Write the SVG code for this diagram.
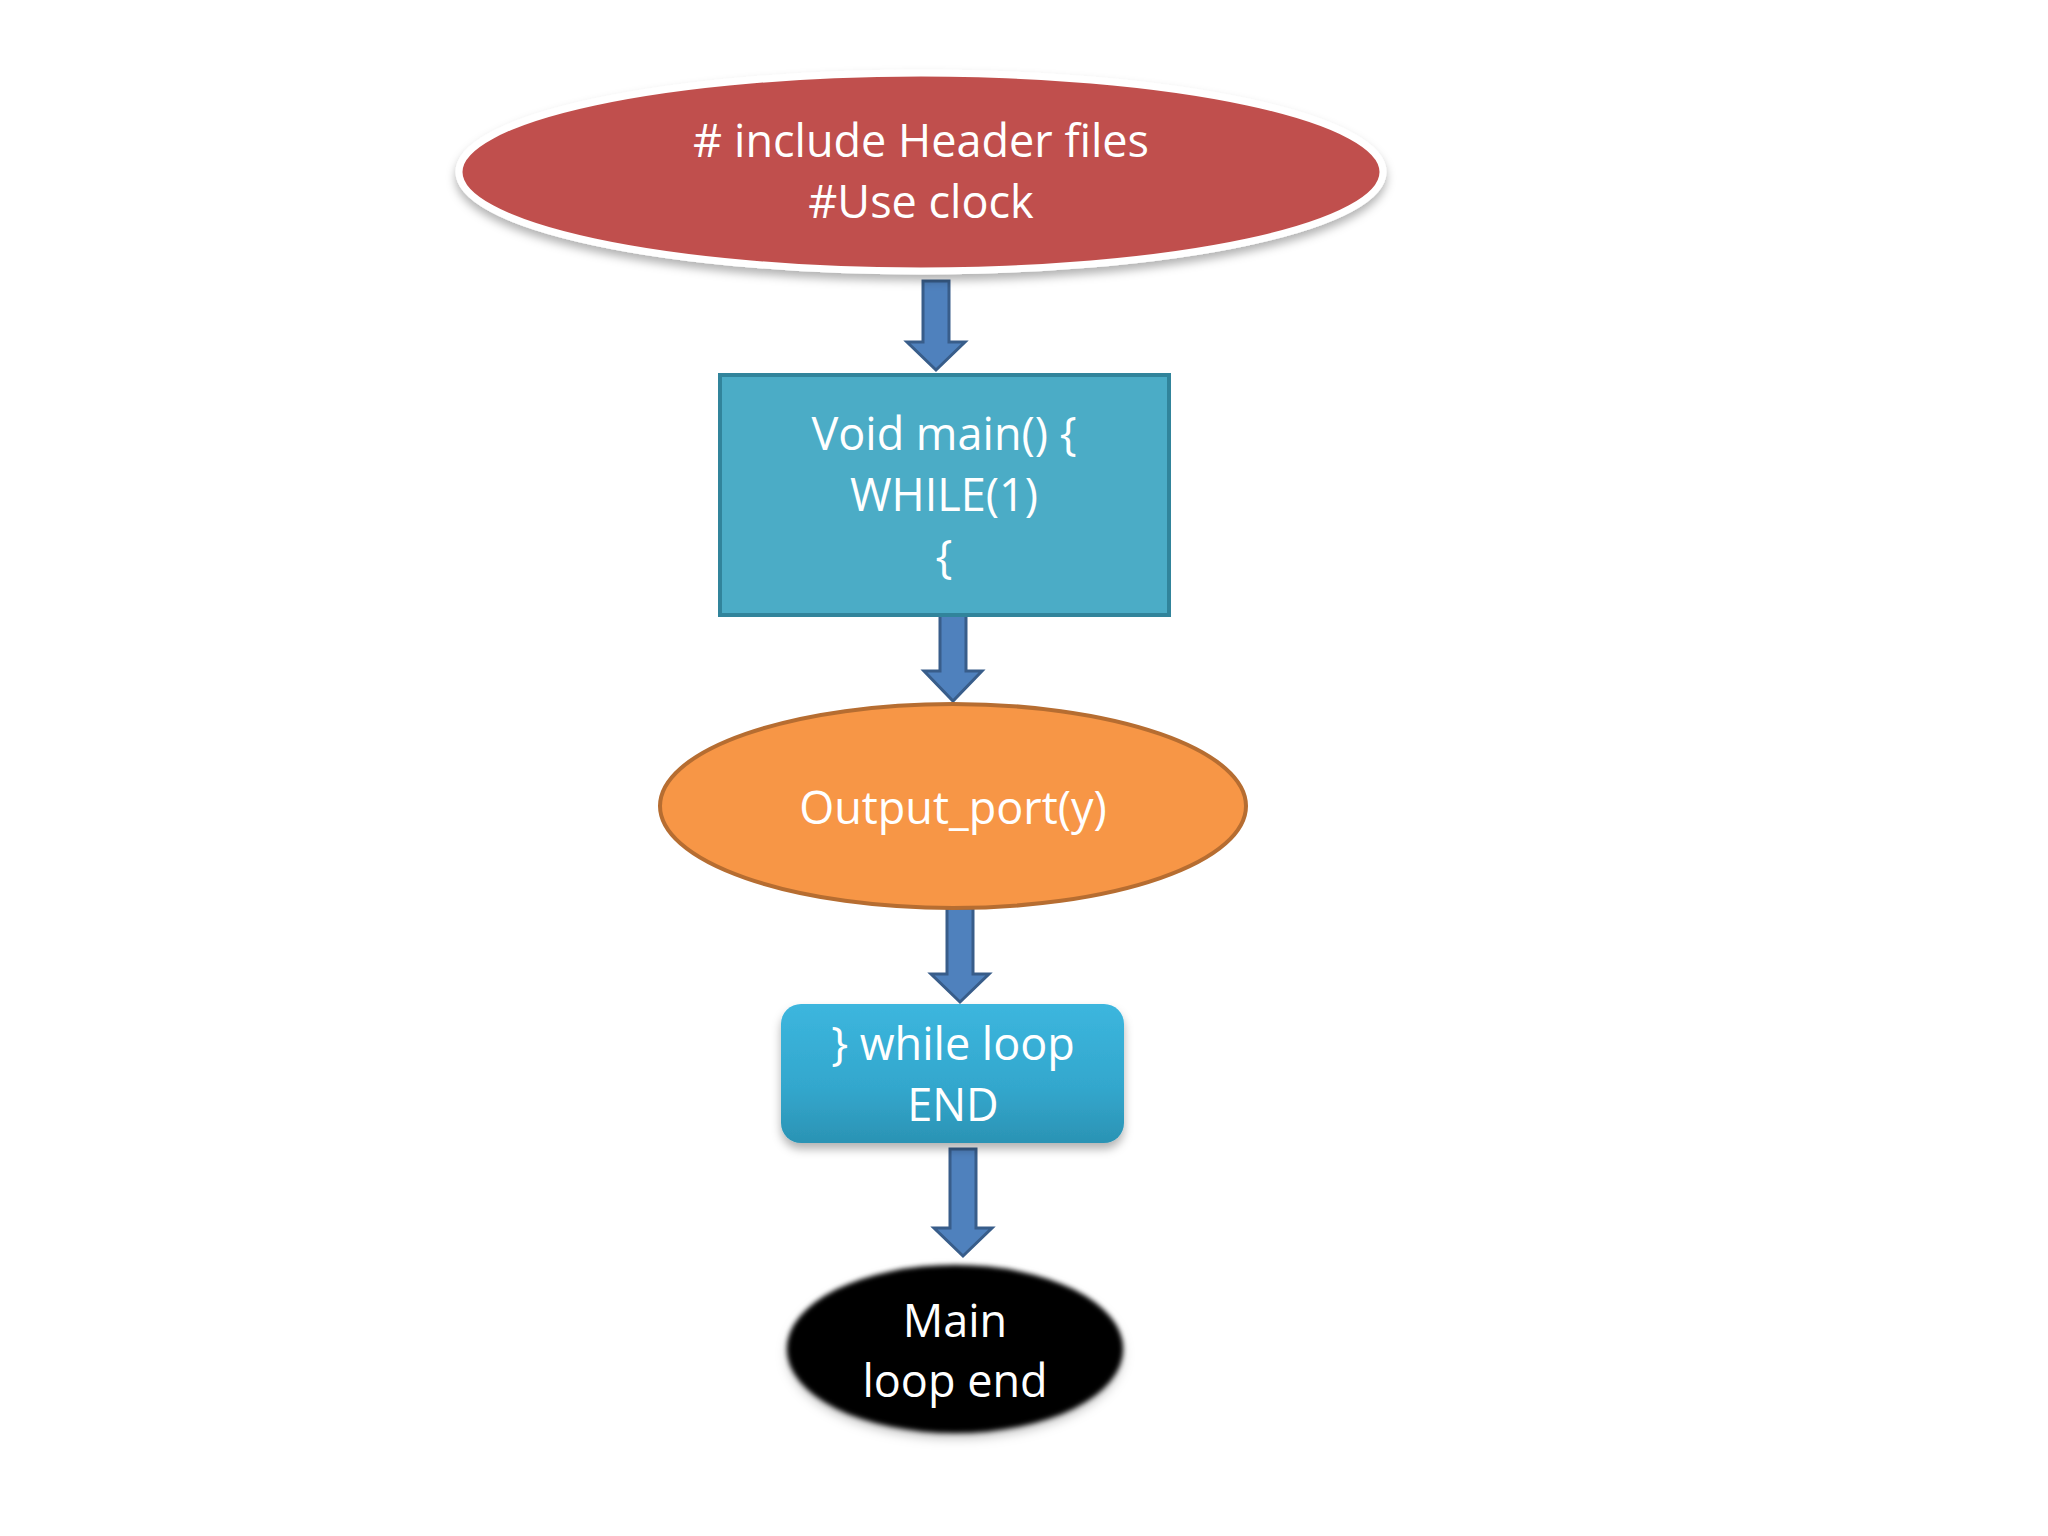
<svg xmlns="http://www.w3.org/2000/svg" width="2048" height="1536" viewBox="0 0 2048 1536">
<style>
.t{font-family:"Open Sans","Liberation Sans",sans-serif;font-size:45px;fill:#ffffff;text-anchor:middle;dominant-baseline:central}
.arrow{fill:#4F81BD;stroke:#385D8A;stroke-width:3;stroke-linejoin:miter}
</style>
<defs>
<filter id="sh" x="-10%" y="-20%" width="120%" height="150%">
<feDropShadow dx="0" dy="6" stdDeviation="5" flood-color="#000" flood-opacity="0.3"/>
</filter>
<filter id="soft" x="-10%" y="-20%" width="120%" height="150%">
<feGaussianBlur in="SourceGraphic" stdDeviation="2.5" result="b"/>
<feDropShadow in="b" dx="0" dy="5" stdDeviation="5" flood-color="#000" flood-opacity="0.25"/>
</filter>
<linearGradient id="cy" x1="0" y1="0" x2="0" y2="1">
<stop offset="0" stop-color="#3CB6DE"/>
<stop offset="0.6" stop-color="#33A7CD"/>
<stop offset="1" stop-color="#2B93B4"/>
</linearGradient>
</defs>
<rect width="2048" height="1536" fill="#ffffff"/>
<g id="connectors">
<path class="arrow" d="M923,281 H949 V342 H965 L936,370 L907,342 H923 Z"/>
<path class="arrow" d="M940,613 H966 V671 H982 L953,701 L924,671 H940 Z"/>
<path class="arrow" d="M947,908 H973 V974 H989 L960,1002 L931,974 H947 Z"/>
<path class="arrow" d="M950,1149 H976 V1228 H992 L963,1256 L934,1228 H950 Z"/>
</g>
<g id="node-header">
<ellipse cx="921" cy="172" rx="462" ry="99" fill="#C0504D" stroke="#ffffff" stroke-width="7" filter="url(#sh)"/>
<text class="t" x="921" y="139">#<tspan dx="12">include Header files</tspan></text>
<text class="t" x="921" y="200">#Use clock</text>
</g>
<g id="node-main">
<rect x="720" y="375" width="449" height="240" fill="#4BACC6" stroke="#31849B" stroke-width="4"/>
<text class="t" x="944" y="432">Void main() {</text>
<text class="t" x="944" y="493">WHILE(1)</text>
<text class="t" x="944" y="555">{</text>
</g>
<g id="node-output">
<ellipse cx="953" cy="806" rx="293" ry="102" fill="#F79646" stroke="#B66D31" stroke-width="4"/>
<text class="t" x="953" y="806">Output_port(y)</text>
</g>
<g id="node-while-end">
<rect x="781" y="1004" width="343" height="139" rx="20" ry="20" fill="url(#cy)" filter="url(#sh)"/>
<text class="t" x="953" y="1042">} while loop</text>
<text class="t" x="953" y="1103">END</text>
</g>
<g id="node-main-end">
<ellipse cx="955" cy="1349" rx="168" ry="84" fill="#000000" filter="url(#soft)"/>
<text class="t" x="955" y="1319">Main</text>
<text class="t" x="955" y="1379">loop end</text>
</g>
</svg>
